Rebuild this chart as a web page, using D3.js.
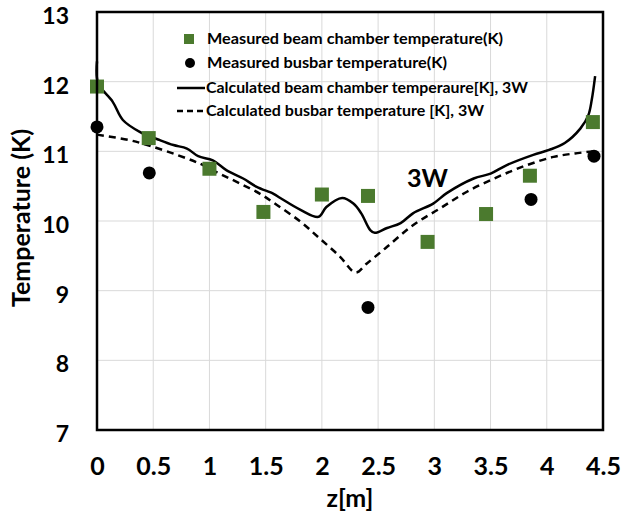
<!DOCTYPE html>
<html><head><meta charset="utf-8">
<script src="https://cdn.jsdelivr.net/npm/d3@7"></script>
<style>body{margin:0;background:#fff;} text{font-family:Lato,"Open Sans",sans-serif;font-weight:bold;}</style>
</head><body>
<script>
const xTicks = [0,0.5,1,1.5,2,2.5,3,3.5,4,4.5];
const yTicks = [7,8,9,10,11,12,13];
const measBeamZ = [0,0.46,1.0,1.48,2.0,2.41,2.94,3.46,3.85,4.41];
const measBeamT = [11.93,11.19,10.75,10.13,10.38,10.36,9.70,10.10,10.65,11.42];
const measBusZ = [0,0.465,2.41,3.86,4.42];
const measBusT = [11.35,10.69,8.76,10.31,10.93];
const calcBeamZ = [0,0.01,0.14,0.23,0.38,0.56,0.68,0.80,0.90,1.03,1.15,1.30,1.42,1.57,1.63,1.81,1.97,2.04,2.18,2.28,2.35,2.43,2.47,2.58,2.70,2.81,2.99,3.11,3.35,3.50,3.64,3.88,4.02,4.16,4.30,4.37,4.40,4.43];
const calcBeamT = [12.29,11.98,11.71,11.45,11.28,11.16,11.09,11.04,10.93,10.87,10.73,10.61,10.49,10.39,10.33,10.16,10.06,10.20,10.33,10.25,10.11,9.87,9.83,9.90,9.97,10.11,10.25,10.40,10.61,10.68,10.80,10.95,11.02,11.12,11.33,11.52,11.74,12.08];
const calcBusZ = [0,0.29,0.47,0.71,0.92,1.09,1.27,1.45,1.60,1.81,1.98,2.16,2.30,2.40,2.58,2.81,3.05,3.29,3.56,3.82,4.06,4.25,4.42];
const calcBusT = [11.24,11.16,11.08,10.95,10.82,10.68,10.54,10.39,10.23,9.99,9.75,9.49,9.26,9.39,9.63,9.94,10.18,10.42,10.63,10.80,10.92,10.97,11.00];
const legendLabels = ["Measured beam chamber temperature(K)","Measured busbar temperature(K)","Calculated beam chamber temperaure[K],  3W","Calculated busbar temperature [K], 3W"];

const W=623,H=518;
const m={l:97,r:20,t:12,b:88};
const svg=d3.select("body").append("svg").attr("width",W).attr("height",H);
const x=d3.scaleLinear().domain([0,4.5]).range([m.l,W-m.r]);
const y=d3.scaleLinear().domain([7,13]).range([H-m.b,m.t]);
const green="#4b7a2e";

// grid
svg.append("g").selectAll("line").data(xTicks).join("line")
  .attr("x1",d=>x(d)).attr("x2",d=>x(d)).attr("y1",y(7)).attr("y2",y(13))
  .attr("stroke","#d9d9d9").attr("stroke-width",1);
svg.append("g").selectAll("line").data(yTicks).join("line")
  .attr("y1",d=>y(d)).attr("y2",d=>y(d)).attr("x1",x(0)).attr("x2",x(4.5))
  .attr("stroke","#d9d9d9").attr("stroke-width",1);

// axes
const xa=svg.append("g").attr("transform",`translate(0,${y(7)})`)
  .call(d3.axisBottom(x).tickValues(xTicks).tickSize(0).tickPadding(27).tickFormat(d=>String(d)));
xa.select(".domain").remove();
xa.selectAll("text").attr("font-size",25).attr("fill","#000").style("font-family","Lato,sans-serif").style("font-weight","bold");
const ya=svg.append("g").attr("transform",`translate(${x(0)},0)`)
  .call(d3.axisLeft(y).tickValues(yTicks).tickSize(0).tickPadding(28).tickFormat(d=>String(d)));
ya.select(".domain").remove();
ya.selectAll("text").attr("font-size",23).attr("dy","0.5em").attr("fill","#000").style("font-family","Lato,sans-serif").style("font-weight","bold");

svg.append("text").attr("x",x(2.25)).attr("y",507).attr("text-anchor","middle").attr("font-size",25).text("z[m]");
svg.append("text").attr("transform",`translate(30,${(y(7)+y(13))/2-3}) rotate(-90)`).attr("text-anchor","middle").attr("font-size",25).text("Temperature (K)");

// lines
const line=d3.line().x(d=>x(d[0])).y(d=>y(d[1])).curve(d3.curveCatmullRom.alpha(0.5));
svg.append("path").datum(calcBusZ.map((z,i)=>[z,calcBusT[i]])).attr("d",line)
  .attr("fill","none").attr("stroke","#000").attr("stroke-width",2.5).attr("stroke-dasharray","7,5");
svg.append("path").datum(calcBeamZ.map((z,i)=>[z,calcBeamT[i]])).attr("d",line)
  .attr("fill","none").attr("stroke","#000").attr("stroke-width",2.5);

// markers
svg.append("g").selectAll("rect").data(measBeamZ.map((z,i)=>[z,measBeamT[i]])).join("rect")
  .attr("x",d=>x(d[0])-7).attr("y",d=>y(d[1])-7).attr("width",14).attr("height",14).attr("fill",green);
svg.append("g").selectAll("circle").data(measBusZ.map((z,i)=>[z,measBusT[i]])).join("circle")
  .attr("cx",d=>x(d[0])).attr("cy",d=>y(d[1])).attr("r",6.5).attr("fill","#000");

// frame
svg.append("rect").attr("x",x(0)).attr("y",y(13)).attr("width",x(4.5)-x(0)).attr("height",y(7)-y(13))
  .attr("fill","none").attr("stroke","#000").attr("stroke-width",2.5);

// 3W label
svg.append("text").attr("x",407).attr("y",187).attr("font-size",25).attr("textLength",41).attr("lengthAdjust","spacingAndGlyphs").text("3W");

// legend
const lg=svg.append("g");
const ly=[39,63,88,111];
lg.append("rect").attr("x",184).attr("y",ly[0]-5).attr("width",10).attr("height",10).attr("fill",green);
lg.append("circle").attr("cx",190).attr("cy",ly[1]).attr("r",5).attr("fill","#000");
lg.append("line").attr("x1",177).attr("x2",205).attr("y1",ly[2]).attr("y2",ly[2]).attr("stroke","#000").attr("stroke-width",2.5);
lg.append("line").attr("x1",177).attr("x2",205).attr("y1",ly[3]).attr("y2",ly[3]).attr("stroke","#000").attr("stroke-width",2.5).attr("stroke-dasharray","6,4");
const lx=[207,207,206,206];
const lw=[296,240,322,278];
legendLabels.forEach((t,i)=>{
  lg.append("text").attr("x",lx[i]).attr("y",ly[i]+5).attr("font-size",15)
    .attr("textLength",lw[i]).attr("lengthAdjust","spacingAndGlyphs").text(t);
});
</script>
</body></html>
